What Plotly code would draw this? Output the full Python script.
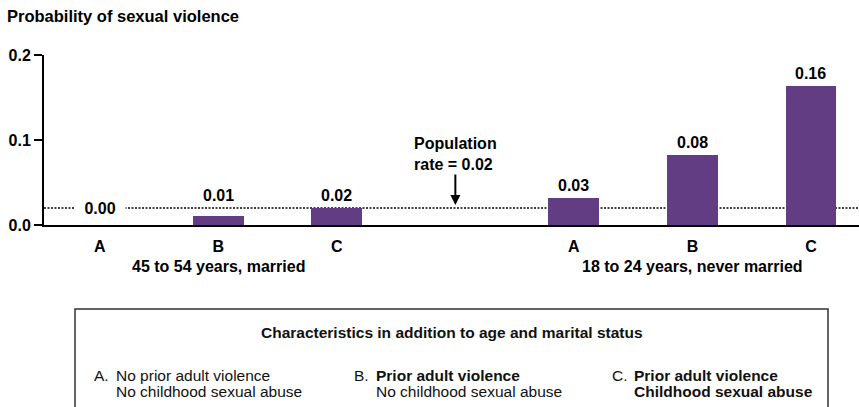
import plotly.graph_objects as go

# ---------------- data ----------------
groups = ["45 to 54 years, married", "18 to 24 years, never married"]
letters = ["A", "B", "C"]
values_45_54_married = [0.0, 0.011, 0.020]
values_18_24_never = [0.032, 0.082, 0.164]
population_rate = 0.02
y_ticks = [0.0, 0.1, 0.2]

legend_title = "Characteristics in addition to age and marital status"
legend_line1 = ["No prior adult violence", "Prior adult violence", "Prior adult violence"]
legend_line2 = ["No childhood sexual abuse", "No childhood sexual abuse", "Childhood sexual abuse"]
legend_bold1 = [False, True, True]
legend_bold2 = [False, False, True]

# ---------------- layout constants ----------------
W, H = 859, 407
ML, MR, MT, MB = 44, 0, 55, 182
PW, PH = W - ML - MR, H - MT - MB
BAR = "#623D84"
FONT = "Arial"


def px(x):
    return (x - ML) / PW


def py(y):
    return (H - MB - y) / PH


series = [values_45_54_married, values_18_24_never]
slot = len(letters) + 1
xs, ys, ticktext = [], [], []
for g, vals in enumerate(series):
    for i, v in enumerate(vals):
        xs.append(g * slot + i)
        ys.append(v)
        ticktext.append(letters[i])

fig = go.Figure()
fig.add_trace(go.Bar(x=xs, y=ys, width=0.43, marker=dict(color=BAR, line=dict(width=0)),
                     hoverinfo="skip"))

annotations = []
for x, v in zip(xs, ys):
    zero = (round(v, 2) == 0)
    label_y = v if (zero or v >= population_rate) else population_rate
    annotations.append(dict(
        x=x, y=label_y, xref="x", yref="y", text=(f" {v:.2f} " if zero else f"{v:.2f}"),
        showarrow=False, yanchor="bottom", yshift=2,
        bgcolor="white" if zero else None, borderpad=5 if zero else 1,
        font=dict(family=FONT, size=16, color="black", weight="bold")))

for g, name in enumerate(groups):
    annotations.append(dict(
        x=g * slot + (len(letters) - 1) / 2, y=0, xref="x", yref="y", text=name,
        showarrow=False, yanchor="middle", yshift=-41,
        font=dict(family=FONT, size=16, color="black", weight="bold")))

annotations.append(dict(
    x=len(letters), y=population_rate, xref="x", yref="y",
    text=f"Population<br>rate = {population_rate:.2f}", align="left",
    showarrow=True, arrowhead=2, arrowsize=1, arrowwidth=2, arrowcolor="black",
    ax=0, ay=-54, standoff=3,
    font=dict(family=FONT, size=16, color="black", weight="bold")))

annotations.append(dict(
    x=px(5), y=py(16), xref="paper", yref="paper", text="Probability of sexual violence",
    showarrow=False, xanchor="left", yanchor="middle",
    font=dict(family=FONT, size=16.5, color="black", weight="bold")))

# legend box content
annotations.append(dict(
    x=px(452), y=py(332), xref="paper", yref="paper", text=legend_title,
    showarrow=False, xanchor="center", yanchor="middle",
    font=dict(family=FONT, size=15.5, color="#111", weight="bold")))

col_x = [92, 352, 610]
for i, L in enumerate(letters):
    annotations.append(dict(
        x=px(col_x[i]), y=py(375), xref="paper", yref="paper", text=f"{L}.",
        showarrow=False, xanchor="left", yanchor="middle",
        font=dict(family=FONT, size=15.5, color="#111")))
    annotations.append(dict(
        x=px(col_x[i] + 22), y=py(375), xref="paper", yref="paper", text=legend_line1[i],
        showarrow=False, xanchor="left", yanchor="middle",
        font=dict(family=FONT, size=15.5, color="#111",
                  weight="bold" if legend_bold1[i] else "normal")))
    annotations.append(dict(
        x=px(col_x[i] + 22), y=py(391), xref="paper", yref="paper", text=legend_line2[i],
        showarrow=False, xanchor="left", yanchor="middle",
        font=dict(family=FONT, size=15.5, color="#111",
                  weight="bold" if legend_bold2[i] else "normal")))

shapes = [
    dict(type="line", xref="paper", yref="y", x0=0, x1=1, y0=population_rate, y1=population_rate,
         line=dict(color="black", width=1.5, dash="2px,1.5px"), layer="below"),
    dict(type="rect", xref="paper", yref="paper", x0=px(75), x1=px(828), y0=py(309), y1=py(440),
         line=dict(color="#333", width=1.5), fillcolor="rgba(0,0,0,0)"),
]

fig.update_layout(
    width=W, height=H,
    margin=dict(l=ML, r=MR, t=MT, b=MB, pad=0, autoexpand=False),
    paper_bgcolor="white", plot_bgcolor="white",
    showlegend=False,
    bargap=0,
    annotations=annotations,
    shapes=shapes,
    xaxis=dict(range=[-0.47, 6.405], tickvals=xs, ticktext=ticktext, ticks="",
               showline=True, linecolor="black", linewidth=2, showgrid=False, zeroline=False,
               tickfont=dict(family=FONT, size=16, color="black", weight="bold"),
               ticklabelstandoff=6, fixedrange=True, automargin=False),
    yaxis=dict(range=[0, 0.2], tickvals=y_ticks, tickformat=".1f", ticks="outside",
               ticklen=8, tickwidth=2, tickcolor="black",
               showline=True, linecolor="black", linewidth=2, showgrid=False, zeroline=False,
               tickfont=dict(family=FONT, size=16, color="black", weight="bold"),
               fixedrange=True, automargin=False),
)

fig.write_html("out.html", config={"displayModeBar": False},
               post_script="document.body.style.margin='0px';document.body.style.overflow='hidden';")
